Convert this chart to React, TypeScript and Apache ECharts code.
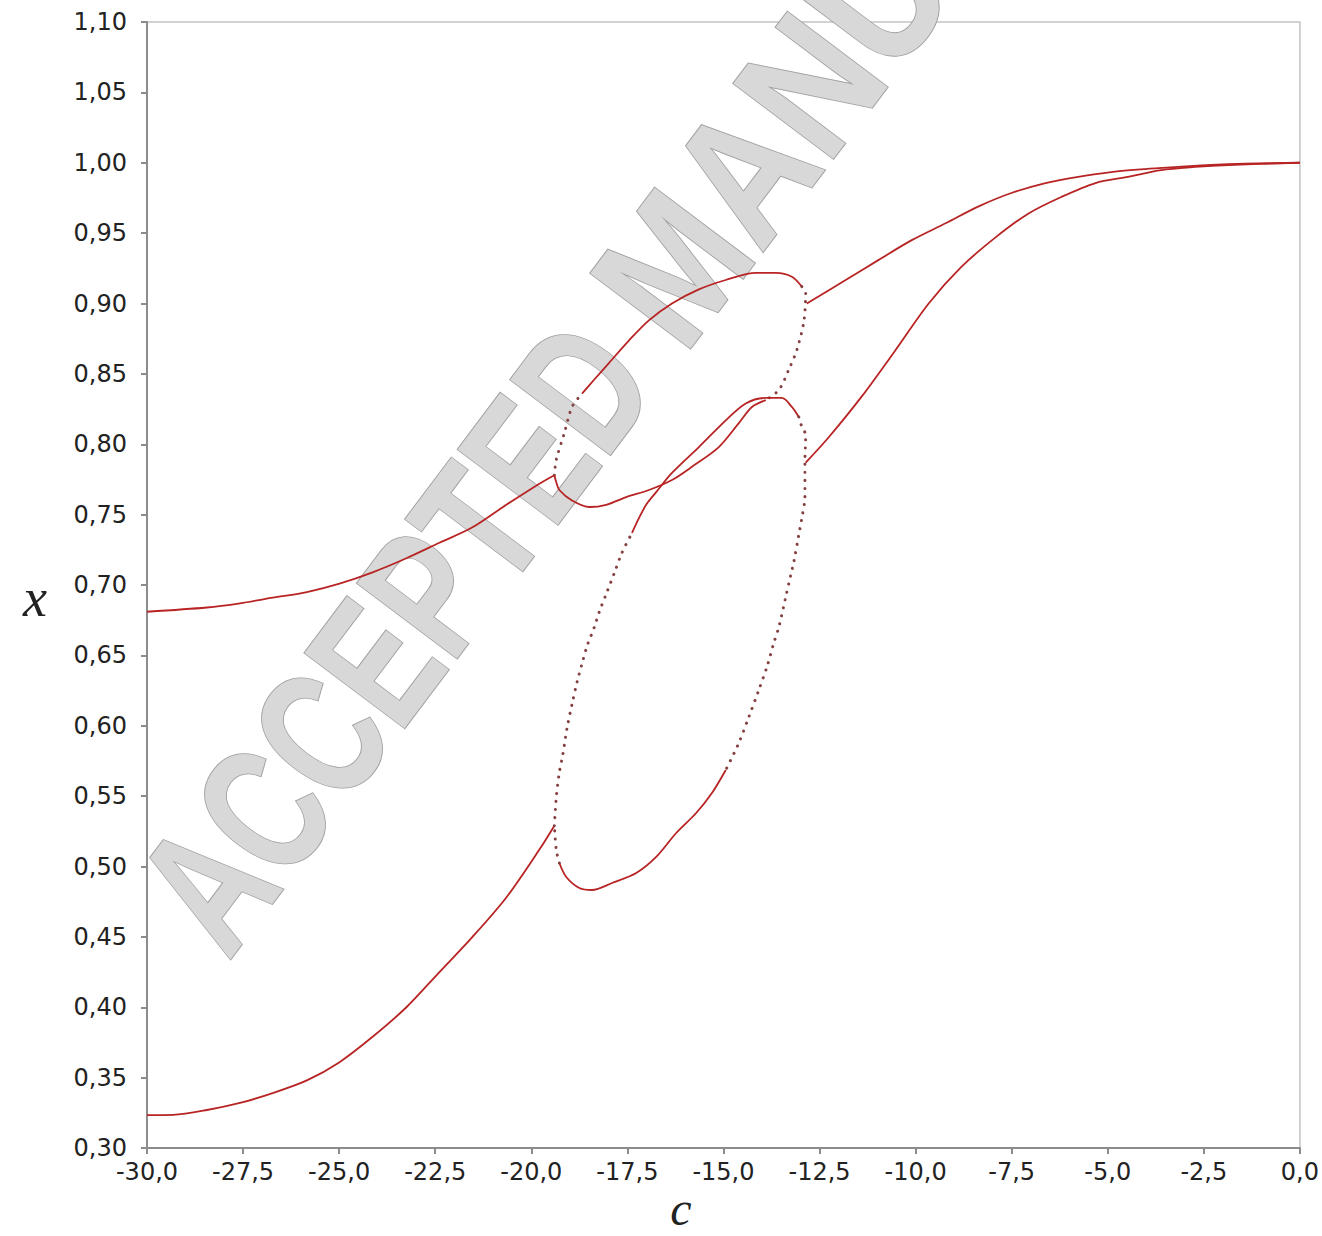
import React, { useEffect, useRef } from "react";
import * as echarts from "echarts";

// Axis ranges / ticks
const X_MIN = -30;
const X_MAX = 0;
const X_STEP = 2.5;
const Y_MIN = 0.3;
const Y_MAX = 1.1;
const Y_STEP = 0.05;

// Branch A (upper left, stable)
const A_C = [-30, -28.44, -27.58, -26.73, -25.84, -24.99, -24.13, -23.25, -22.39, -21.53, -20.65, -19.79, -19.4];
const A_X = [0.681, 0.684, 0.687, 0.691, 0.695, 0.701, 0.709, 0.719, 0.73, 0.741, 0.757, 0.772, 0.778];

// Branch B (lower left)
const B_C = [-30, -29.32, -28.44, -27.58, -26.73, -25.84, -24.99, -24.13, -23.25, -22.39, -21.53, -20.65, -19.79, -19.4];
const B_X = [0.3234, 0.3236, 0.327, 0.332, 0.339, 0.348, 0.361, 0.379, 0.4, 0.425, 0.45, 0.478, 0.512, 0.529];

// Branch C (upper right)
const C_C = [-12.83, -11.82, -10.96, -10.1, -9.22, -8.36, -7.51, -6.62, -5.77, -4.91, -4.03, -3.17, -2.31, -1.43, 0];
const C_X = [0.9, 0.9167, 0.931, 0.945, 0.957, 0.969, 0.9785, 0.9856, 0.99, 0.9934, 0.9955, 0.997, 0.9984, 0.9993, 1.0];

// Branch D (lower right)
const D_C = [-12.86, -12.26, -11.4, -10.52, -9.66, -8.81, -7.92, -7.06, -6.21, -5.32, -4.47, -3.61, -2.73, -1.87, 0];
const D_X = [0.787, 0.805, 0.834, 0.867, 0.9, 0.926, 0.947, 0.964, 0.9757, 0.9856, 0.99, 0.9948, 0.997, 0.9984, 1.0];

// Upper loop: rise from branch A end (sparse), dense arc to the 0.92 peak
const L1A_C = [-19.4, -19.35, -19.14, -18.94, -18.68];
const L1A_X = [0.778, 0.789, 0.808, 0.8265, 0.836];
const L1B_C = [-18.68, -18.36, -17.97, -17.45, -16.94, -16.34, -15.64, -14.94, -14.16, -13.64, -13.22, -12.96];
const L1B_X = [0.836, 0.846, 0.858, 0.874, 0.888, 0.9, 0.91, 0.9167, 0.9217, 0.9217, 0.919, 0.912];
// sparse descent from the 0.92 peak
const L1C_C = [-12.96, -12.86, -12.91, -13.09, -13.3, -13.56, -13.9];
const L1C_X = [0.912, 0.9075, 0.887, 0.867, 0.853, 0.8385, 0.8314];
// flat arc from branch A end through the 0.757 minimum up to 0.831
const L2A_C = [-19.4, -19.35, -19.27, -18.94, -18.49, -18.05, -17.53, -16.94, -16.34, -15.82, -15.12, -14.6, -14.26, -13.9];
const L2A_X = [0.778, 0.773, 0.7675, 0.76, 0.7554, 0.757, 0.7625, 0.7675, 0.7746, 0.784, 0.798, 0.815, 0.8265, 0.8314];
// sparse rise from branch B end
const L1E_C = [-19.4, -19.35, -19.27, -19.19, -19.065, -18.935, -18.81, -18.675, -18.545, -18.36, -18.23, -18.03, -17.84, -17.64, -17.38];
const L1E_X = [0.529, 0.549, 0.567, 0.578, 0.599, 0.616, 0.631, 0.6446, 0.657, 0.67, 0.681, 0.695, 0.7085, 0.723, 0.737];
// dense rise to the 0.833 peak
const L1D_C = [-17.38, -17.19, -17.0, -16.75, -16.34, -15.64, -14.94, -14.42, -13.9, -13.48, -13.22, -13.04];
const L1D_X = [0.737, 0.748, 0.7575, 0.766, 0.7796, 0.798, 0.817, 0.829, 0.8329, 0.8329, 0.8265, 0.8194];
// sparse descent on the right side of the big loop
const L2B_C = [-13.04, -12.96, -12.86, -12.88, -12.88, -12.96, -13.04, -13.17, -13.25, -13.38, -13.56, -13.69, -13.87, -14.08, -14.34, -14.6, -14.94];
const L2B_X = [0.8194, 0.8123, 0.8066, 0.787, 0.7625, 0.7476, 0.7355, 0.7163, 0.7071, 0.6915, 0.67, 0.6588, 0.6417, 0.6254, 0.6062, 0.5878, 0.5686];
// dense bottom of the big loop (minimum 0.483)
const L2C_C = [-14.94, -15.3, -15.71, -16.23, -16.75, -17.27, -17.9, -18.42, -18.75, -19.09, -19.27];
const L2C_X = [0.5686, 0.5522, 0.538, 0.5238, 0.5068, 0.4954, 0.4883, 0.4833, 0.4847, 0.4925, 0.5025];
const L2D_C = [-19.27, -19.35, -19.4];
const L2D_X = [0.5025, 0.5117, 0.529];

const SOLID = "#b82424";
const DOT = "#854040";

function seg(name: string, cs: number[], xs: number[], dotted: boolean) {
  return {
    name,
    type: "line",
    data: cs.map((c, i) => [c, xs[i]]),
    smooth: 0.3,
    symbol: "none",
    showSymbol: false,
    silent: true,
    z: 5,
    lineStyle: dotted
      ? { color: DOT, width: 3, type: [0.1, 8], cap: "round" }
      : { color: SOLID, width: 1.8 },
  };
}

export default function App() {
  const ref = useRef<HTMLDivElement>(null);
  useEffect(() => {
    document.body.style.margin = "0";
    const chart = echarts.init(ref.current!, undefined, { renderer: "svg" });
    const rot = (53 * Math.PI) / 180;
    const wmStyle = {
      fontFamily: "Liberation Sans",
      fontWeight: "bold",
      fontSize: 182,
      fill: "#d8d8d8",
      stroke: "#a0a0a0",
      lineWidth: 2,
      align: "left",
      verticalAlign: "middle",
    };
    chart.setOption({
      animation: false,
      backgroundColor: "#ffffff",
      grid: {
        left: 147,
        right: 20,
        top: 22,
        bottom: 88,
        show: true,
        borderColor: "#c4c4c4",
        borderWidth: 1.5,
      },
      xAxis: {
        type: "value",
        min: X_MIN,
        max: X_MAX,
        interval: X_STEP,
        splitLine: { show: false },
        axisLine: { show: true, onZero: false, lineStyle: { color: "#8c8c8c", width: 2 } },
        axisTick: { show: true, length: 6, lineStyle: { color: "#8c8c8c", width: 2 } },
        axisLabel: {
          margin: 12,
          color: "#222",
          fontFamily: "DejaVu Sans",
          fontSize: 24,
          formatter: (v: number) => v.toFixed(1).replace(".", ","),
        },
      },
      yAxis: {
        type: "value",
        min: Y_MIN,
        max: Y_MAX,
        interval: Y_STEP,
        splitLine: { show: false },
        axisLine: { show: true, onZero: false, lineStyle: { color: "#8c8c8c", width: 2 } },
        axisTick: { show: true, length: 6, lineStyle: { color: "#8c8c8c", width: 2 } },
        axisLabel: {
          margin: 20,
          color: "#222",
          fontFamily: "DejaVu Sans",
          fontSize: 24,
          formatter: (v: number) => v.toFixed(2).replace(".", ","),
        },
      },
      graphic: [
        {
          type: "text",
          x: 178,
          y: 924,
          rotation: rot,
          scaleX: 0.72,
          z: 1,
          silent: true,
          style: { ...wmStyle, text: "ACCEPTED" },
        },
        {
          type: "text",
          x: 634,
          y: 319,
          rotation: rot,
          scaleX: 0.84,
          z: 1,
          silent: true,
          style: { ...wmStyle, text: "MANUSCRIPT" },
        },
        {
          type: "text",
          x: 35,
          y: 598,
          z: 10,
          style: {
            text: "x",
            fontFamily: "Liberation Serif",
            fontStyle: "italic",
            fontSize: 54,
            fill: "#222",
            align: "center",
            verticalAlign: "middle",
          },
        },
        {
          type: "text",
          x: 681,
          y: 1208,
          z: 10,
          style: {
            text: "c",
            fontFamily: "Liberation Serif",
            fontStyle: "italic",
            fontSize: 48,
            fill: "#222",
            align: "center",
            verticalAlign: "middle",
          },
        },
      ],
      series: [
        seg("A", A_C, A_X, false),
        seg("B", B_C, B_X, false),
        seg("C", C_C, C_X, false),
        seg("D", D_C, D_X, false),
        seg("L1a", L1A_C, L1A_X, true),
        seg("L1b", L1B_C, L1B_X, false),
        seg("L1c", L1C_C, L1C_X, true),
        seg("L2a", L2A_C, L2A_X, false),
        seg("L1e", L1E_C, L1E_X, true),
        seg("L1d", L1D_C, L1D_X, false),
        seg("L2b", L2B_C, L2B_X, true),
        seg("L2c", L2C_C, L2C_X, false),
        seg("L2d", L2D_C, L2D_X, true),
      ],
    });
    return () => chart.dispose();
  }, []);
  return <div ref={ref} style={{ width: 1322, height: 1236 }} />;
}
